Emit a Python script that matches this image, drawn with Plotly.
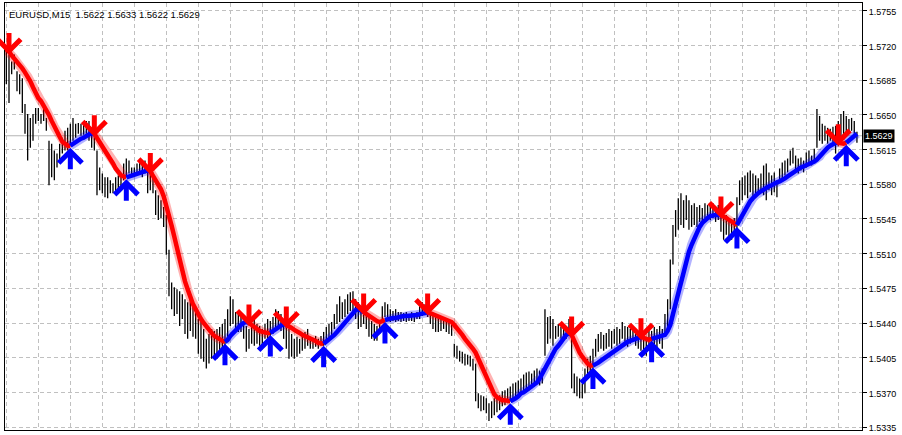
import plotly.graph_objects as go

# prices stored as points above 1.5000 (price = 1.5 + pts / 10000)
BASE = 1.5
PT = 10000.0

high_pts = [
    716, 711, 704, 711, 694, 691, 687, 661, 651, 647, 651, 657,
    657, 651, 657, 647, 624, 621, 614, 611, 621, 627, 634, 637,
    641, 647, 641, 642, 641, 643, 644, 644, 637, 634, 614, 597,
    591, 587, 587, 584, 581, 587, 589, 591, 601, 606, 604, 597,
    597, 601, 604, 602, 604, 597, 594, 592, 574, 569, 564, 557,
    549, 514, 481, 476, 474, 472, 469, 464, 461, 464, 459, 456,
    444, 442, 434, 424, 429, 434, 432, 434, 436, 439, 444, 454,
    467, 464, 451, 449, 446, 442, 437, 434, 437, 444, 439, 437,
    434, 439, 444, 442, 446, 454, 452, 449, 444, 437, 434, 429,
    424, 426, 424, 429, 431, 434, 426, 424, 427, 424, 427, 431,
    436, 439, 441, 449, 459, 467, 461, 464, 469, 471, 472, 464,
    461, 456, 452, 449, 446, 442, 439, 437, 442, 457, 461, 459,
    454, 452, 454, 451, 451, 450, 451, 449, 451, 450, 451, 457,
    461, 459, 456, 451, 449, 447, 446, 444, 446, 444, 442, 439,
    419, 417, 412, 411, 409, 408, 407, 404, 399, 369, 367, 366,
    364, 359, 361, 364, 366, 367, 371, 372, 374, 376, 379, 380,
    382, 384, 388, 390, 391, 389, 392, 394, 392, 394, 454, 446,
    447, 444, 437, 439, 436, 438, 437, 444, 442, 389, 386, 384,
    379, 394, 404, 407, 414, 424, 429, 431, 428, 430, 434, 432,
    434, 436, 434, 441, 437, 436, 434, 437, 434, 432, 431, 429,
    426, 434, 432, 436, 434, 437, 434, 449, 464, 504, 539, 554,
    566, 571, 564, 569, 564, 559, 561, 557, 559, 556, 561, 559,
    559, 561, 557, 559, 552, 549, 549, 544, 542, 546, 567, 584,
    587, 589, 592, 594, 591, 589, 586, 591, 599, 601, 592, 589,
    592, 581, 596, 602, 604, 606, 614, 617, 609, 606, 607, 604,
    612, 614, 609, 616, 656, 649, 641, 639, 637, 636, 638, 639,
    644, 651, 654, 649, 646, 647, 644, 633,
]

low_pts = [
    681, 662, 691, 696, 674, 671, 652, 631, 604, 617, 624, 641,
    644, 641, 644, 634, 579, 587, 584, 597, 604, 611, 614, 614,
    621, 624, 627, 631, 629, 630, 631, 624, 617, 614, 569, 574,
    571, 567, 566, 571, 571, 572, 574, 577, 584, 587, 591, 587,
    587, 591, 591, 587, 591, 571, 574, 571, 549, 544, 546, 537,
    509, 467, 454, 447, 449, 437, 444, 429, 424, 432, 426, 424,
    409, 404, 401, 394, 399, 404, 406, 404, 412, 414, 411, 424,
    437, 439, 431, 431, 431, 424, 411, 414, 419, 417, 419, 417,
    417, 424, 424, 426, 429, 434, 436, 432, 424, 414, 404, 406,
    404, 406, 409, 412, 414, 417, 414, 414, 416, 414, 417, 417,
    421, 424, 426, 434, 439, 441, 444, 446, 449, 452, 447, 444,
    434, 436, 439, 434, 426, 424, 422, 422, 429, 444, 446, 444,
    441, 442, 441, 442, 441, 442, 441, 442, 442, 441, 444, 444,
    447, 448, 446, 439, 434, 431, 431, 432, 434, 431, 429, 427,
    406, 404, 401, 399, 397, 398, 396, 392, 361, 354, 351, 352,
    349, 341, 344, 347, 350, 352, 356, 357, 359, 361, 362, 364,
    366, 367, 371, 374, 372, 374, 376, 379, 377, 379, 407, 419,
    424, 417, 424, 426, 424, 426, 424, 431, 374, 369, 366, 364,
    364, 369, 387, 389, 394, 406, 411, 414, 412, 414, 416, 414,
    419, 417, 419, 424, 421, 416, 419, 422, 417, 414, 412, 407,
    407, 412, 409, 414, 412, 419, 414, 427, 434, 454, 499, 527,
    534, 539, 536, 544, 534, 537, 539, 537, 542, 539, 546, 544,
    544, 546, 542, 544, 532, 524, 529, 527, 524, 529, 534, 559,
    564, 569, 566, 572, 564, 569, 571, 574, 569, 564, 574, 569,
    572, 567, 582, 586, 589, 592, 599, 601, 594, 591, 594, 592,
    597, 599, 599, 604, 617, 624, 621, 624, 621, 624, 621, 611,
    619, 627, 629, 632, 631, 634, 631, 622,
]

ma_pts = [
    716, 714, 710, 707, 704, 701, 697, 693, 689, 684, 678, 672,
    667, 664, 660, 656, 650, 644, 638, 633, 628, 623, 621, 619,
    619, 621, 623, 624, 626, 627, 629, 631, 632, 631, 627, 623,
    618, 614, 609, 605, 601, 596, 592, 589, 588, 587, 588, 589,
    589, 590, 591, 592, 593, 594, 593, 589, 585, 580, 575, 568,
    559, 549, 538, 527, 515, 503, 492, 482, 474, 466, 459, 454,
    448, 444, 440, 436, 433, 430, 427, 425, 423, 422, 421, 423,
    427, 430, 433, 436, 438, 440, 441, 440, 438, 435, 433, 432,
    431, 430, 430, 430, 432, 434, 436, 438, 439, 438, 437, 435,
    433, 432, 430, 428, 427, 426, 424, 423, 422, 420, 419, 419,
    421, 424, 426, 428, 431, 434, 437, 441, 444, 447, 450, 453,
    454, 453, 451, 449, 447, 445, 444, 442, 441, 442, 443, 444,
    444, 445, 445, 446, 446, 447, 447, 447, 448, 448, 448, 449,
    449, 450, 451, 450, 448, 447, 446, 445, 444, 443, 442, 441,
    438, 435, 432, 428, 424, 421, 418, 414, 410, 404, 398, 392,
    385, 378, 373, 368, 365, 363, 362, 362, 361, 361, 362, 364,
    366, 369, 370, 372, 374, 376, 378, 380, 384, 389, 395, 400,
    406, 410, 414, 417, 421, 425, 428, 430, 428, 421, 415, 410,
    406, 402, 399, 397, 397, 398, 400, 402, 404, 406, 408, 410,
    412, 414, 416, 418, 419, 421, 422, 423, 424, 425, 426, 425,
    424, 423, 424, 425, 426, 426, 427, 428, 432, 438, 449, 460,
    471, 483, 493, 503, 512, 519, 526, 532, 537, 541, 544, 546,
    548, 549, 549, 549, 549, 548, 546, 544, 542, 540, 539, 544,
    550, 555, 559, 563, 566, 569, 571, 573, 575, 576, 578, 579,
    581, 582, 583, 584, 586, 588, 590, 592, 594, 596, 597, 598,
    599, 601, 602, 603, 605, 608, 612, 615, 617, 619, 621, 622,
    622, 621, 621, 622, 624, 626, 628, 631,
]

# bar indices where the indicator gives a sell (down) / buy (up) signal
down_signals = [1, 33, 54, 91, 105, 134, 158, 212, 238, 268, 312]
up_signals = [24, 45, 82, 99, 119, 142, 189, 220, 242, 274, 315]

tick_values = [1.5335, 1.5370, 1.5405, 1.5440, 1.5475, 1.5510, 1.5545,
               1.5580, 1.5615, 1.5650, 1.5685, 1.5720, 1.5755]
tick_labels = ["1.5335", "1.5370", "1.5405", "1.5440", "1.5475", "1.5510", "1.5545",
               "1.5580", "1.5615", "1.5650", "1.5685", "1.5720", "1.5755"]

symbol = "EURUSD,M15"
last_ohlc = [1.5622, 1.5633, 1.5622, 1.5629]

RED = "#ff0000"
BLUE = "#0000ff"
RED_FRINGE = "rgba(255,0,0,0.30)"
BLUE_FRINGE = "rgba(0,0,255,0.30)"
FONT = "Liberation Sans"

n = len(ma_pts)
high = [BASE + v / PT for v in high_pts]
low = [BASE + v / PT for v in low_pts]
ma = [BASE + v / PT for v in ma_pts]
idx = list(range(n))

# trend state per bar derived from the signals
state = []
cur = "red"
for i in idx:
    if i in down_signals:
        cur = "red"
    elif i in up_signals:
        cur = "blue"
    state.append(cur)

fig = go.Figure()

# price bars (high-low lines)
bx, by = [], []
for i in idx:
    bx += [i, i, None]
    by += [low[i], high[i], None]
fig.add_trace(go.Scatter(x=bx, y=by, mode="lines",
                         line=dict(color="#000000", width=1.3),
                         hoverinfo="skip", showlegend=False))

# coloured moving-average line
segments = {}
for color_name in ("red", "blue"):
    xs, ys = [], []
    for i in idx:
        if state[i] == color_name or (i > 0 and state[i - 1] == color_name):
            xs.append(i)
            ys.append(ma[i])
        else:
            if xs and xs[-1] is not None:
                xs.append(None)
                ys.append(None)
    segments[color_name] = (xs, ys)

for color_name, col in (("red", RED_FRINGE), ("blue", BLUE_FRINGE)):
    xs, ys = segments[color_name]
    fig.add_trace(go.Scatter(x=xs, y=ys, mode="lines",
                             line=dict(color=col, width=9),
                             hoverinfo="skip", showlegend=False))
for color_name, col in (("red", RED), ("blue", BLUE)):
    xs, ys = segments[color_name]
    fig.add_trace(go.Scatter(x=xs, y=ys, mode="lines",
                             line=dict(color=col, width=4.5),
                             hoverinfo="skip", showlegend=False))

annotations = []
for i in down_signals:
    annotations.append(dict(x=i, y=ma[i], xref="x", yref="y", text="",
                            showarrow=True, ax=0, ay=-23, arrowhead=4,
                            arrowwidth=5, arrowsize=0.9, arrowcolor=RED,
                            standoff=0, yshift=-3))
for i in up_signals:
    annotations.append(dict(x=i, y=ma[i], xref="x", yref="y", text="",
                            showarrow=True, ax=0, ay=23, arrowhead=4,
                            arrowwidth=5, arrowsize=0.9, arrowcolor=BLUE,
                            standoff=0, yshift=-2))

title_text = symbol + "\u00a0\u00a0" + " ".join(f"{v:.4f}" for v in last_ohlc)
annotations.append(dict(x=0, y=1, xref="paper", yref="paper", xanchor="left",
                        yanchor="top", xshift=2, yshift=-4, showarrow=False,
                        text=title_text, font=dict(family=FONT, size=9.5, color="#000000")))
annotations.append(dict(x=1, y=last_ohlc[3], xref="paper", yref="y", xanchor="left",
                        yanchor="middle", xshift=1, showarrow=False,
                        text=f"{last_ohlc[3]:.4f}", bgcolor="#000000", borderpad=1,
                        font=dict(family=FONT, size=9, color="#ffffff")))

fig.update_layout(
    width=902, height=435,
    margin=dict(l=5, r=40, t=2, b=2),
    paper_bgcolor="#ffffff", plot_bgcolor="#ffffff",
    showlegend=False,
    annotations=annotations,
    shapes=[dict(type="line", xref="paper", yref="y", x0=0, x1=1,
                 y0=last_ohlc[3], y1=last_ohlc[3],
                 line=dict(color="#b4b4b4", width=1), layer="below")],
)
fig.update_xaxes(range=[-0.5, 320.9], showticklabels=False, ticks="",
                 tickmode="linear", tick0=0, dtick=12,
                 showgrid=True, gridcolor="#c0c0c0", griddash="4px,3px", gridwidth=1,
                 zeroline=False, showline=True, linecolor="#000000", linewidth=1, mirror=True)
fig.update_yaxes(range=[1.5332, 1.5763], side="right",
                 tickmode="array", tickvals=tick_values, ticktext=tick_labels,
                 ticks="outside", ticklen=4, tickcolor="#000000",
                 ticklabelshift=1, ticklabeloverflow="allow",
                 tickfont=dict(family=FONT, size=9, color="#000000"),
                 showgrid=True, gridcolor="#c0c0c0", griddash="4px,3px", gridwidth=1,
                 zeroline=False, showline=True, linecolor="#000000", linewidth=1, mirror=True)

fig.write_html("out.html", config={"displayModeBar": False},
               post_script="document.body.style.margin='0px';document.body.style.padding='0px';")
